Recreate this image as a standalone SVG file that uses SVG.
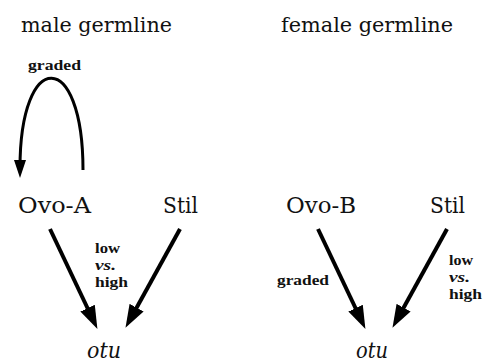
<svg xmlns="http://www.w3.org/2000/svg" width="485" height="363" viewBox="0 0 485 363">
  <style>
    text { font-family: "Liberation Serif", serif; fill: #111; }
    .title, .node, .gene { font-family: "DejaVu Serif", "Liberation Serif", serif; }
    .title { font-size: 21px; }
    .node { font-size: 21.5px; }
    .gene { font-size: 22px; font-style: italic; }
    .lbl { font-size: 15px; font-weight: bold; }
    .lbl-i { font-style: italic; }
    .edge { fill: none; stroke: #000; stroke-width: 4; }
    .loop { fill: none; stroke: #000; stroke-width: 3; }
  </style>
  <defs>
    <marker id="head" markerUnits="userSpaceOnUse" markerWidth="24" markerHeight="18" viewBox="0 -9 24 18" refX="12" refY="0" orient="auto">
      <path d="M0,-8 L23,0 L0,8 z" fill="#000"/>
    </marker>
    <marker id="headSmall" markerUnits="userSpaceOnUse" markerWidth="20" markerHeight="14" viewBox="0 -7 20 14" refX="8" refY="0" orient="auto">
      <path d="M0,-6 L18,0 L0,6 z" fill="#000"/>
    </marker>
  </defs>

  <!-- panel headings -->
  <text class="title" x="21" y="32" textLength="151" lengthAdjust="spacingAndGlyphs">male germline</text>
  <text class="title" x="281" y="32" textLength="172" lengthAdjust="spacingAndGlyphs">female germline</text>

  <!-- male germline nodes -->
  <g id="ovoA">
    <text class="node" x="18" y="213" textLength="73" lengthAdjust="spacingAndGlyphs">Ovo-A</text>
  </g>
  <g id="stilMale">
    <text class="node" x="163" y="213" textLength="35" lengthAdjust="spacingAndGlyphs">Stil</text>
  </g>
  <g id="otuMale">
    <text class="gene" x="87" y="358" textLength="34" lengthAdjust="spacingAndGlyphs">otu</text>
  </g>

  <!-- female germline nodes -->
  <g id="ovoB">
    <text class="node" x="286" y="213" textLength="70" lengthAdjust="spacingAndGlyphs">Ovo-B</text>
  </g>
  <g id="stilFemale">
    <text class="node" x="430" y="213" textLength="35" lengthAdjust="spacingAndGlyphs">Stil</text>
  </g>
  <g id="otuFemale">
    <text class="gene" x="356" y="358" textLength="32" lengthAdjust="spacingAndGlyphs">otu</text>
  </g>

  <!-- connectors -->
  <g id="connectors">
    <path class="loop" d="M83,170 C83,48 20,48 20,168" marker-end="url(#headSmall)"/>
    <line class="edge" x1="50" y1="229" x2="92.7" y2="319" marker-end="url(#head)"/>
    <line class="edge" x1="180" y1="229" x2="130.8" y2="318.2" marker-end="url(#head)"/>
    <line class="edge" x1="318" y1="229" x2="360.7" y2="319" marker-end="url(#head)"/>
    <line class="edge" x1="447" y1="229" x2="397.8" y2="318.2" marker-end="url(#head)"/>

    <!-- connector labels -->
    <text class="lbl" x="28" y="70" textLength="53" lengthAdjust="spacingAndGlyphs">graded</text>
    <text class="lbl" x="95" y="253" textLength="25" lengthAdjust="spacingAndGlyphs">low</text>
    <text class="lbl lbl-i" x="95" y="270" textLength="21" lengthAdjust="spacingAndGlyphs">vs.</text>
    <text class="lbl" x="95" y="287" textLength="33" lengthAdjust="spacingAndGlyphs">high</text>
    <text class="lbl" x="277" y="285" textLength="52" lengthAdjust="spacingAndGlyphs">graded</text>
    <text class="lbl" x="449" y="265" textLength="24" lengthAdjust="spacingAndGlyphs">low</text>
    <text class="lbl lbl-i" x="449" y="282" textLength="21" lengthAdjust="spacingAndGlyphs">vs.</text>
    <text class="lbl" x="449" y="299" textLength="33" lengthAdjust="spacingAndGlyphs">high</text>
  </g>
</svg>
